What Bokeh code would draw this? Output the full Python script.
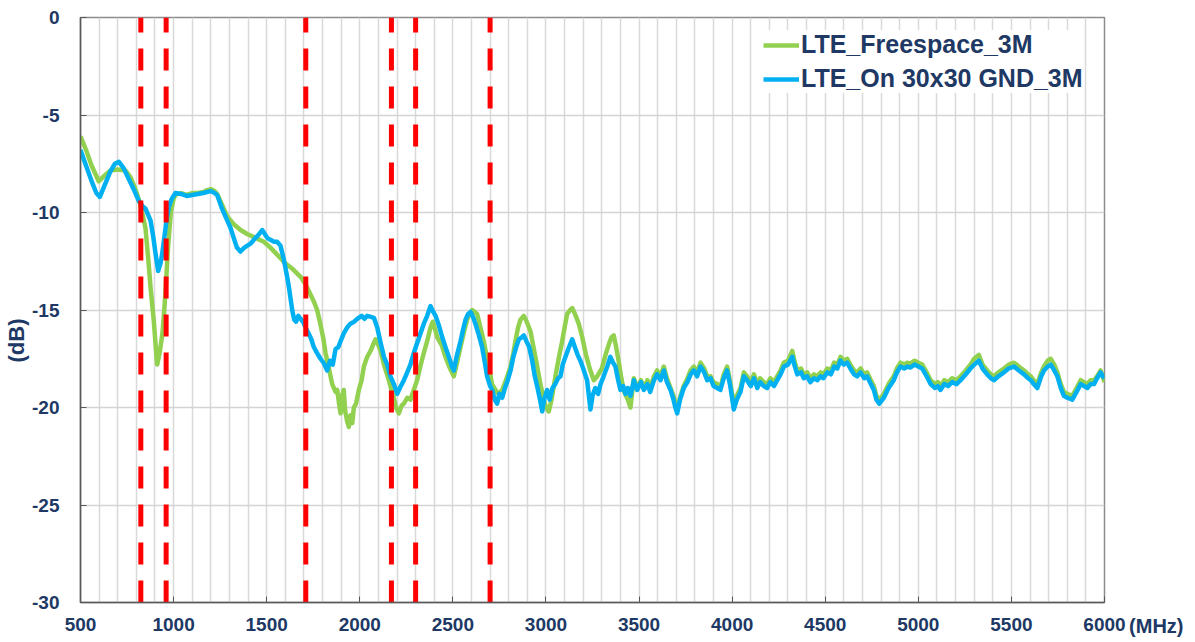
from bokeh.plotting import figure
from bokeh.models import FixedTicker, Legend, LegendItem, Range1d, Title
from bokeh.embed import file_html
from bokeh.resources import INLINE

# ---------------- data ----------------
green_freq = [500, 530, 560, 598, 630, 661, 700, 742, 769, 795, 822, 849, 865, 876, 894, 905, 912, 925,
              940, 950, 960, 970, 985, 1000, 1010, 1040, 1070, 1100, 1130, 1160, 1180, 1200, 1220, 1234,
              1260, 1288, 1323, 1360, 1395, 1440, 1485, 1520, 1560, 1600, 1640, 1682, 1710, 1735, 1755,
              1771, 1790, 1805, 1816, 1830, 1843, 1852, 1870, 1879, 1890, 1897, 1905, 1914, 1922, 1932,
              1941, 1950, 1960, 1968, 1980, 1995, 2010, 2022, 2040, 2058, 2075, 2085, 2100, 2112, 2130,
              2156, 2170, 2183, 2195, 2210, 2225, 2237, 2255, 2272, 2290, 2308, 2325, 2344, 2362, 2380,
              2392, 2405, 2416, 2440, 2460, 2480, 2505, 2520, 2541, 2560, 2577, 2590, 2604, 2630, 2648,
              2666, 2680, 2693, 2710, 2729, 2745, 2765, 2785, 2810, 2825, 2836, 2850, 2863, 2881, 2892,
              2905, 2917, 2935, 2953, 2970, 2989, 3000, 3015, 3030, 3051, 3070, 3087, 3100, 3114, 3130,
              3141, 3160, 3176, 3195, 3215, 3235, 3257, 3275, 3300, 3320, 3340, 3352, 3364, 3375, 3390,
              3405, 3420, 3440, 3454, 3472, 3490, 3510, 3526, 3545, 3560, 3580, 3597, 3615, 3633, 3650,
              3669, 3685, 3705, 3720, 3740, 3760, 3777, 3794, 3812, 3830, 3850, 3866, 3884, 3900, 3920,
              3937, 3955, 3973, 3990, 4009, 4025, 4045, 4063, 4080, 4100, 4117, 4135, 4150, 4170, 4188,
              4205, 4225, 4242, 4260, 4278, 4300, 4323, 4337, 4350, 4370, 4385, 4403, 4420, 4440, 4457,
              4475, 4490, 4511, 4530, 4548, 4565, 4582, 4600, 4618, 4635, 4655, 4672, 4690, 4710, 4725,
              4745, 4761, 4775, 4790, 4815, 4840, 4868, 4885, 4904, 4925, 4940, 4958, 4980, 5000, 5021,
              5045, 5066, 5090, 5105, 5119, 5140, 5160, 5182, 5205, 5227, 5255, 5280, 5300, 5325, 5345,
              5370, 5390, 5406, 5430, 5460, 5485, 5514, 5540, 5568, 5590, 5604, 5620, 5639, 5660, 5675,
              5695, 5711, 5730, 5747, 5765, 5782, 5800, 5827, 5850, 5872, 5890, 5908, 5925, 5944, 5960,
              5979, 5990, 6000]
green_db = [-6.1, -6.8, -7.6, -8.4, -8.1, -7.85, -7.8, -7.85, -8.2, -8.8, -9.6, -10.8, -12.5, -13.8, -15.6,
            -17.0, -17.8, -17.2, -16.2, -15.0, -13.5, -11.8, -10.0, -9.3, -9.1, -9.0, -9.1, -9.0, -9.0,
            -8.95, -8.85, -8.8, -8.9, -9.05, -9.6, -10.2, -10.6, -10.9, -11.1, -11.3, -11.5, -11.8, -12.2,
            -12.6, -12.9, -13.3, -13.7, -14.2, -14.6, -15.0, -15.8, -16.5, -17.2, -17.8, -18.4, -18.8,
            -19.2, -19.1, -19.9, -20.3, -19.4, -19.1, -20.2, -20.7, -21.0, -20.4, -20.8, -20.0, -19.8,
            -19.1, -18.6, -17.9, -17.4, -17.1, -16.7, -16.5, -16.8, -17.1, -17.8, -18.6, -19.1, -19.5,
            -20.0, -20.3, -19.9, -19.8, -19.5, -19.6, -19.1, -18.6, -17.9, -17.2, -16.6, -15.9, -15.6,
            -16.0, -16.4, -16.8, -17.4, -17.9, -18.4, -17.8, -16.9, -16.1, -15.5, -15.2, -15.0, -15.2,
            -15.9, -16.6, -17.3, -17.8, -18.8, -19.1, -19.3, -19.1, -18.6, -17.9, -17.2, -16.6, -15.9,
            -15.5, -15.3, -15.5, -15.8, -16.1, -17.0, -17.9, -18.8, -19.6, -20.0, -20.2, -19.6, -18.4,
            -17.4, -16.6, -15.9, -15.2, -15.0, -14.9, -15.3, -15.7, -16.4, -17.3, -18.0, -18.6, -18.4,
            -18.0, -17.3, -16.7, -16.4, -16.3, -16.8, -17.6, -18.5, -19.2, -19.6, -20.0, -18.5, -19.0,
            -18.6, -19.0, -18.6, -19.0, -18.4, -18.1, -18.4, -17.9, -18.5, -19.0, -19.4, -20.1, -19.5,
            -18.9, -18.5, -18.1, -17.9, -18.2, -17.7, -18.0, -18.4, -18.4, -18.7, -18.8, -19.0, -18.3,
            -17.9, -18.7, -19.9, -19.4, -19.0, -18.2, -18.4, -18.7, -18.3, -18.8, -18.5, -18.7, -18.8,
            -18.5, -18.7, -18.4, -18.1, -17.7, -17.6, -17.1, -17.7, -18.1, -18.0, -18.3, -18.2, -18.5,
            -18.3, -18.4, -18.2, -18.3, -18.0, -18.1, -17.7, -17.8, -17.4, -17.6, -17.5, -17.8, -18.1,
            -18.2, -18.0, -18.3, -18.2, -18.6, -18.9, -19.4, -19.6, -19.3, -18.8, -18.4, -18.0, -17.7,
            -17.8, -17.7, -17.75, -17.6, -17.7, -17.8, -18.2, -18.6, -18.8, -18.7, -18.9, -18.6, -18.7,
            -18.5, -18.6, -18.4, -18.1, -17.8, -17.5, -17.3, -17.8, -18.1, -18.3, -18.4, -18.2, -18.0,
            -17.8, -17.7, -17.9, -18.1, -18.3, -18.4, -18.6, -18.8, -18.2, -17.9, -17.6, -17.5, -17.8,
            -18.2, -18.8, -19.2, -19.3, -19.4, -19.0, -18.6, -18.7, -18.8, -18.6, -18.6, -18.4, -18.1,
            -18.4, -18.7]

blue_freq = [500, 530, 560, 585, 604, 630, 660, 685, 706, 730, 760, 790, 813, 835, 849, 862, 876, 890,
             903, 917, 930, 939, 950, 962, 975, 990, 1010, 1040, 1070, 1100, 1130, 1160, 1198, 1220, 1234,
             1260, 1288, 1306, 1323, 1340, 1359, 1380, 1413, 1440, 1460, 1476, 1490, 1503, 1520, 1540,
             1556, 1574, 1592, 1610, 1619, 1628, 1637, 1648, 1658, 1670, 1682, 1695, 1709, 1725, 1740,
             1753, 1770, 1789, 1805, 1815, 1825, 1840, 1855, 1870, 1885, 1897, 1914, 1932, 1950, 1970,
             1986, 2010, 2025, 2040, 2060, 2076, 2094, 2110, 2130, 2147, 2165, 2183, 2201, 2215, 2237,
             2255, 2272, 2290, 2308, 2326, 2344, 2362, 2380, 2395, 2407, 2425, 2443, 2460, 2478, 2495,
             2505, 2520, 2541, 2555, 2568, 2582, 2595, 2610, 2621, 2640, 2657, 2670, 2684, 2700, 2711,
             2725, 2738, 2750, 2765, 2780, 2795, 2810, 2825, 2840, 2855, 2870, 2881, 2895, 2910, 2926,
             2940, 2955, 2970, 2980, 2990, 3006, 3020, 3035, 3050, 3065, 3078, 3090, 3105, 3120, 3141,
             3155, 3170, 3185, 3200, 3221, 3239, 3250, 3265, 3280, 3293, 3310, 3329, 3346, 3360, 3373,
             3388, 3400, 3415, 3427, 3440, 3454, 3472, 3490, 3510, 3526, 3545, 3560, 3580, 3597, 3615,
             3633, 3650, 3669, 3685, 3695, 3705, 3720, 3740, 3760, 3777, 3794, 3812, 3830, 3850, 3866,
             3884, 3900, 3920, 3937, 3955, 3973, 3990, 4009, 4025, 4045, 4063, 4080, 4100, 4117, 4135,
             4150, 4170, 4188, 4205, 4225, 4242, 4260, 4278, 4300, 4323, 4337, 4350, 4370, 4385, 4403,
             4420, 4440, 4457, 4475, 4490, 4511, 4530, 4548, 4565, 4582, 4600, 4618, 4635, 4655, 4672,
             4690, 4710, 4725, 4745, 4761, 4775, 4790, 4815, 4840, 4868, 4885, 4904, 4925, 4940, 4958,
             4980, 5000, 5021, 5045, 5066, 5090, 5105, 5119, 5140, 5160, 5182, 5205, 5227, 5255, 5280,
             5300, 5325, 5345, 5370, 5390, 5406, 5430, 5460, 5485, 5514, 5540, 5568, 5590, 5604, 5620,
             5639, 5660, 5675, 5695, 5711, 5730, 5747, 5765, 5782, 5800, 5827, 5850, 5872, 5890, 5908,
             5925, 5944, 5960, 5979, 5990, 6000]
blue_db = [-6.8, -7.6, -8.4, -9.0, -9.2, -8.6, -7.9, -7.5, -7.4, -7.7, -8.3, -8.9, -9.4, -9.7, -9.8,
           -10.1, -10.4, -11.2, -12.1, -13.0, -12.6, -12.1, -11.3, -10.4, -9.7, -9.3, -9.0, -9.05, -9.15,
           -9.1, -9.05, -9.0, -8.9, -9.0, -9.1, -9.8, -10.4, -10.8, -11.3, -11.8, -12.0, -11.8, -11.6,
           -11.3, -11.1, -10.9, -11.1, -11.3, -11.4, -11.5, -11.5, -11.7, -12.4, -13.3, -13.8, -14.4,
           -15.0, -15.5, -15.6, -15.3, -15.45, -15.6, -15.9, -16.2, -16.5, -16.9, -17.2, -17.5, -17.7,
           -17.9, -18.1, -17.6, -17.8, -17.0, -16.9, -16.6, -16.2, -15.9, -15.7, -15.6, -15.45, -15.3,
           -15.45, -15.3, -15.35, -15.4, -15.9, -16.6, -17.4, -17.8, -18.4, -18.8, -19.3, -19.0, -18.6,
           -18.2, -17.8, -17.2, -16.7, -16.2, -15.7, -15.3, -14.8, -15.1, -15.3, -15.8, -16.4, -16.9,
           -17.4, -17.9, -18.1, -17.4, -16.6, -16.0, -15.5, -15.2, -15.1, -15.4, -15.7, -16.3, -16.9,
           -17.6, -18.4, -18.9, -19.1, -19.6, -19.8, -19.3, -19.5, -19.0, -18.6, -18.1, -17.4, -16.9,
           -16.5, -16.4, -16.3, -16.6, -16.9, -17.6, -18.4, -19.0, -19.7, -20.2, -19.6, -19.1, -19.6,
           -19.0, -18.8, -18.5, -18.4, -17.8, -17.4, -17.0, -16.5, -16.9, -17.3, -17.6, -18.0, -18.6,
           -20.1, -19.4, -19.0, -19.3, -18.8, -18.4, -17.9, -17.4, -17.7, -17.9, -18.6, -19.1, -18.9,
           -19.3, -19.0, -19.4, -18.6, -19.1, -18.7, -19.1, -18.8, -19.2, -18.6, -18.3, -18.6, -18.1,
           -18.7, -19.1, -19.6, -20.0, -20.3, -19.6, -19.0, -18.7, -18.3, -18.1, -18.4, -17.9, -18.2,
           -18.6, -18.5, -18.9, -19.0, -19.1, -18.5, -18.1, -18.9, -20.1, -19.6, -19.2, -18.4, -18.6,
           -18.9, -18.5, -19.0, -18.7, -18.9, -19.0, -18.7, -18.9, -18.6, -18.3, -17.9, -17.8, -17.4,
           -17.9, -18.3, -18.2, -18.5, -18.4, -18.7, -18.5, -18.6, -18.4, -18.5, -18.2, -18.3, -17.9,
           -18.0, -17.6, -17.8, -17.7, -18.0, -18.3, -18.4, -18.2, -18.5, -18.4, -18.8, -19.1, -19.6,
           -19.8, -19.5, -19.0, -18.6, -18.2, -17.9, -18.0, -17.9, -17.95, -17.8, -17.9, -18.0, -18.4,
           -18.8, -19.0, -18.9, -19.1, -18.8, -18.9, -18.7, -18.8, -18.6, -18.3, -18.0, -17.8, -17.6,
           -18.0, -18.3, -18.5, -18.6, -18.4, -18.2, -18.0, -17.9, -18.1, -18.3, -18.5, -18.6, -18.8,
           -19.0, -18.4, -18.1, -17.9, -17.8, -18.1, -18.4, -19.0, -19.4, -19.5, -19.6, -19.2, -18.8,
           -18.9, -19.0, -18.8, -18.8, -18.5, -18.2, -18.4, -18.5]

band_edges = [824, 960, 1710, 2170, 2300, 2700]
x_ticks = [500, 1000, 1500, 2000, 2500, 3000, 3500, 4000, 4500, 5000, 5500, 6000]
y_ticks = [-30, -25, -20, -15, -10, -5, 0]
series_names = ["LTE_Freespace_3M", "LTE_On 30x30 GND_3M"]
y_unit = "(dB)"
x_unit = "(MHz)"

# ---------------- styling ----------------
TXT = "#203864"
FONT = "Liberation Sans"
GREEN = "#92D050"
BLUE = "#00B0F0"

p = figure(frame_width=1024, frame_height=585,
           x_range=Range1d(500, 6000), y_range=Range1d(-30, 0),
           output_backend="svg", toolbar_location=None,
           min_border_left=80, min_border_right=84, min_border_top=17, min_border_bottom=36,
           background_fill_color="white", border_fill_color="white")

p.outline_line_color = "#8c8c8c"
p.outline_line_width = 1.5

p.xaxis.ticker = FixedTicker(ticks=x_ticks)
p.yaxis.ticker = FixedTicker(ticks=y_ticks)
p.yaxis.major_label_overrides = {t: str(t) for t in y_ticks}
for ax in (p.xaxis[0], p.yaxis[0]):
    ax.axis_line_color = "#595959"
    ax.axis_line_width = 1.5
    ax.major_tick_line_color = "#595959"
    ax.major_tick_in = 6
    ax.major_tick_out = 0
    ax.minor_tick_line_color = None
    ax.major_label_text_font = FONT
    ax.major_label_text_font_style = "bold"
    ax.major_label_text_font_size = "19px"
    ax.major_label_text_color = TXT
p.xaxis.major_label_standoff = 15
p.yaxis.major_label_standoff = 21

p.xgrid.ticker = FixedTicker(ticks=list(range(500, 6001, 100)))
p.xgrid.grid_line_color = "#d9d9d9"
p.xgrid.grid_line_width = 1.5
p.ygrid.ticker = FixedTicker(ticks=y_ticks)
p.ygrid.grid_line_color = "#d4d4d4"
p.ygrid.grid_line_width = 1.5

g = p.line(green_freq, green_db, line_color=GREEN, line_width=4.5, line_join="round")
b = p.line(blue_freq, blue_db, line_color=BLUE, line_width=4.5, line_join="round")

p.segment(x0=band_edges, y0=[0] * len(band_edges), x1=band_edges, y1=[-30] * len(band_edges),
          line_color="#FF0000", line_width=5, line_dash="22 16", line_dash_offset=7)

legend = Legend(items=[LegendItem(label=series_names[0], renderers=[g]),
                       LegendItem(label=series_names[1], renderers=[b])],
                location=(683, 509), padding=8, spacing=5,
                glyph_width=36, glyph_height=24, label_standoff=2,
                label_text_font=FONT, label_text_font_style="bold",
                label_text_font_size="25px", label_text_color=TXT,
                border_line_color=None, background_fill_color="white", background_fill_alpha=1.0)
p.add_layout(legend)

# unit texts (placed in the side panels so they are not clipped by the frame)
p.add_layout(Title(text=y_unit, align="left", offset=240, vertical_align="middle", standoff=0,
                   text_font=FONT, text_font_style="bold", text_font_size="22px",
                   text_color=TXT), "left")
p.add_layout(Title(text=x_unit, align="right", offset=-79, vertical_align="top", standoff=-38,
                   text_font=FONT, text_font_style="bold", text_font_size="20px",
                   text_color=TXT), "below")

open("out.html", "w").write(file_html(p, INLINE))
